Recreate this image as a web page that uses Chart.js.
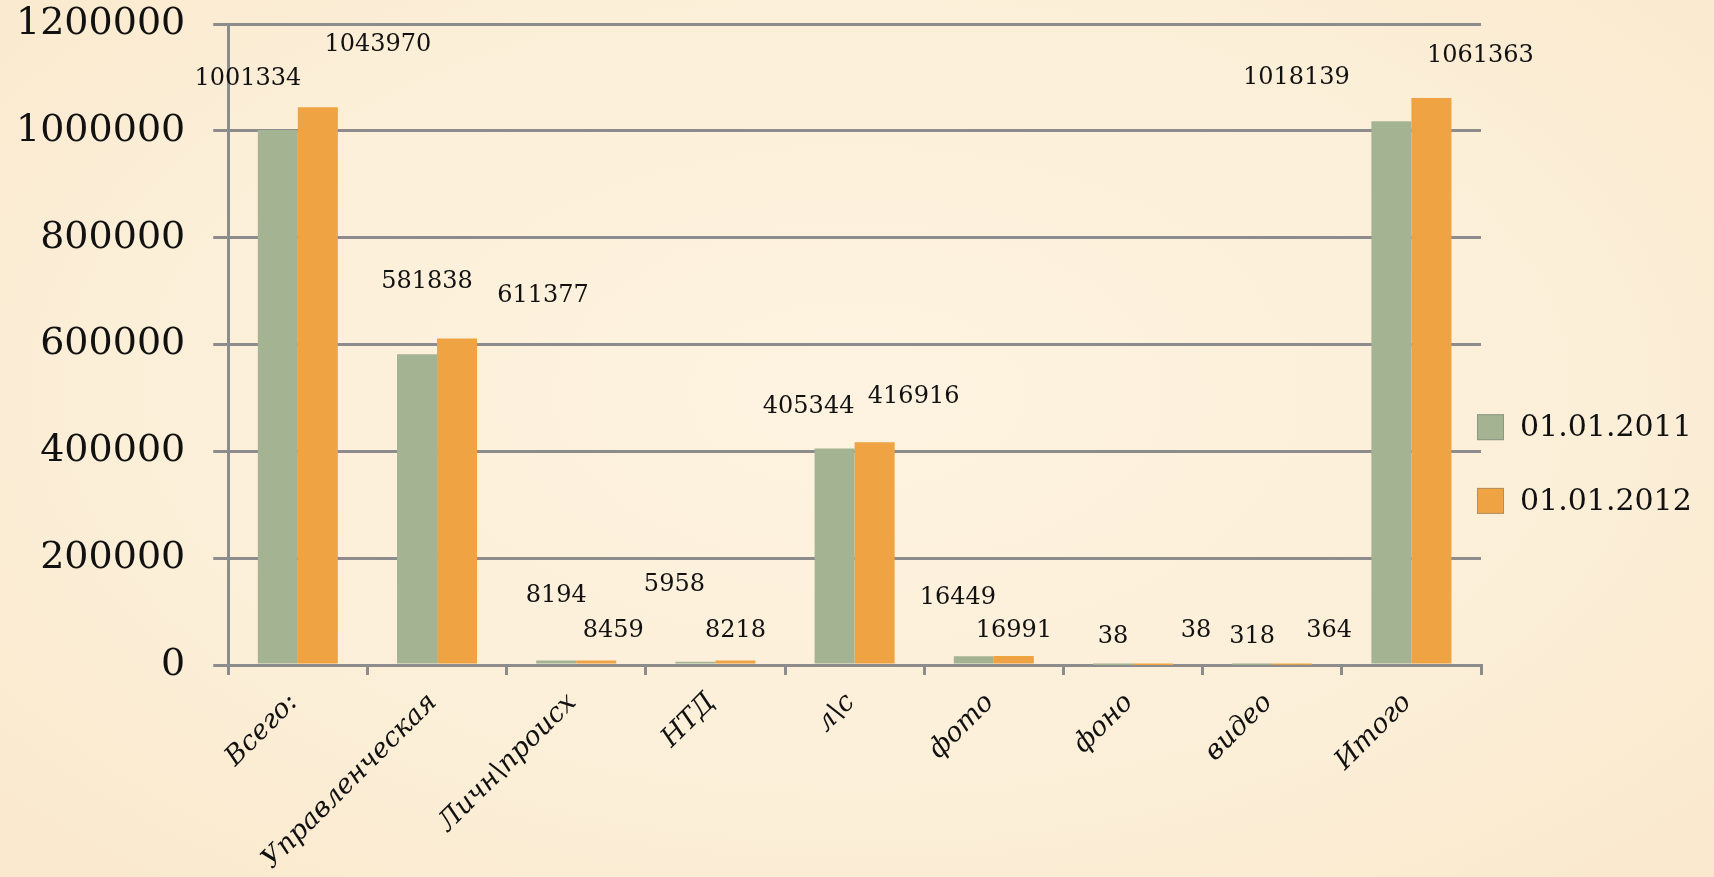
<!DOCTYPE html>
<html>
<head>
<meta charset="utf-8">
<script src="https://cdn.jsdelivr.net/npm/chart.js@4"></script>
<style>
  html, body { margin: 0; padding: 0; }
  body {
    width: 1714px; height: 877px; overflow: hidden;
    background: radial-gradient(ellipse at 50% 45%, #fdf3e0 0%, #fcefd8 60%, #f9e8cc 100%);
  }
  #wrap { position: relative; width: 1714px; height: 877px; }
</style>
</head>
<body>
<div id="wrap"><canvas id="archiveChart" width="1714" height="877"></canvas></div>
<script>
// categories and values
const categories = ['Всего:', 'Управленческая', 'Личн\\происх', 'НТД', 'л\\с', 'фото', 'фоно', 'видео', 'Итого'];
const series2011 = [1001334, 581838, 8194, 5958, 405344, 16449, 38, 318, 1018139];
const series2012 = [1043970, 611377, 8459, 8218, 416916, 16991, 38, 364, 1061363];
const seriesNames = ['01.01.2011', '01.01.2012'];
const yTicks = [0, 200000, 400000, 600000, 800000, 1000000, 1200000];

// where each value label sits relative to the top of its bar (px)
const labelDx = [
  [-30, 10, 0, -21, -26, -16, 0, 0, -95],
  [60, 86, 17, 0, 39, 0, 43, 37, 49]
];
const labelDy = [
  [-51, -72, -65, -77, -42, -58, -28, -28, -43],
  [-63, -43, -30, -30, -46, -25, -34, -34, -42]
];

const colors = ['#a4b391', '#f0a343'];
const gridGray = '#8c8c8c';

const valueLabels = {
  id: 'valueLabels',
  afterDatasetsDraw(chart) {
    const ctx = chart.ctx;
    ctx.save();
    ctx.font = '24px "DejaVu Serif"';
    ctx.fillStyle = '#111';
    ctx.textAlign = 'center';
    ctx.textBaseline = 'middle';
    chart.data.datasets.forEach((ds, d) => {
      chart.getDatasetMeta(d).data.forEach((bar, i) => {
        ctx.fillText(String(ds.data[i]), bar.x + labelDx[d][i], bar.y + labelDy[d][i]);
      });
    });
    ctx.restore();
  }
};

// legend drawn to the right of the plot
const sideLegend = {
  id: 'sideLegend',
  afterDraw(chart) {
    const ctx = chart.ctx;
    const area = chart.chartArea;
    const spots = [0.629, 0.744];
    ctx.save();
    ctx.font = '30px "DejaVu Serif"';
    ctx.textBaseline = 'middle';
    ctx.textAlign = 'left';
    chart.data.datasets.forEach((ds, d) => {
      const cy = area.top + spots[d] * (area.bottom - area.top);
      const x = area.right - 4;
      ctx.fillStyle = ds.backgroundColor;
      ctx.fillRect(x, cy - 13, 27, 26);
      ctx.strokeStyle = 'rgba(120,120,120,0.5)';
      ctx.lineWidth = 1;
      ctx.strokeRect(x + 0.5, cy - 12.5, 26, 25);
      ctx.fillStyle = '#111';
      ctx.fillText(ds.label, x + 43, cy + 1);
    });
    ctx.restore();
  }
};

Chart.defaults.font.family = '"DejaVu Serif", serif';
Chart.defaults.color = '#111';

new Chart(document.getElementById('archiveChart').getContext('2d'), {
  type: 'bar',
  data: {
    labels: categories,
    datasets: [
      { label: seriesNames[0], data: series2011, backgroundColor: colors[0] },
      { label: seriesNames[1], data: series2012, backgroundColor: colors[1] }
    ]
  },
  options: {
    responsive: false,
    animation: false,
    devicePixelRatio: 1,
    layout: { padding: { left: -12, right: 233, top: 0, bottom: 0 } },
    datasets: { bar: { categoryPercentage: 0.575, barPercentage: 1, borderWidth: 0 } },
    plugins: {
      legend: { display: false },
      tooltip: { enabled: false }
    },
    scales: {
      x: {
        afterFit(scale) {
          scale.paddingLeft = 0;
          scale.paddingRight = 0;
          scale.height = 212;
        },
        grid: { drawOnChartArea: false, drawTicks: true, tickLength: 10, lineWidth: 3, color: gridGray },
        border: { color: gridGray, width: 3 },
        ticks: {
          minRotation: 45, maxRotation: 45, padding: 12, labelOffset: -4,
          font: { size: 27, style: 'italic', family: '"DejaVu Serif", serif' },
          color: '#111'
        }
      },
      y: {
        min: 0, max: 1200000,
        afterBuildTicks(scale) { scale.ticks = yTicks.map(v => ({ value: v })); },
        afterFit(scale) {
          scale.paddingTop = 24;
          scale.paddingBottom = 0;
        },
        grid: { color: gridGray, lineWidth: 3, tickLength: 15 },
        border: { color: gridGray, width: 3 },
        ticks: {
          padding: 28,
          font: { size: 38, family: '"DejaVu Serif", serif' },
          color: '#111',
          callback: v => String(v)
        }
      }
    }
  },
  plugins: [valueLabels, sideLegend]
});
</script>
</body>
</html>
